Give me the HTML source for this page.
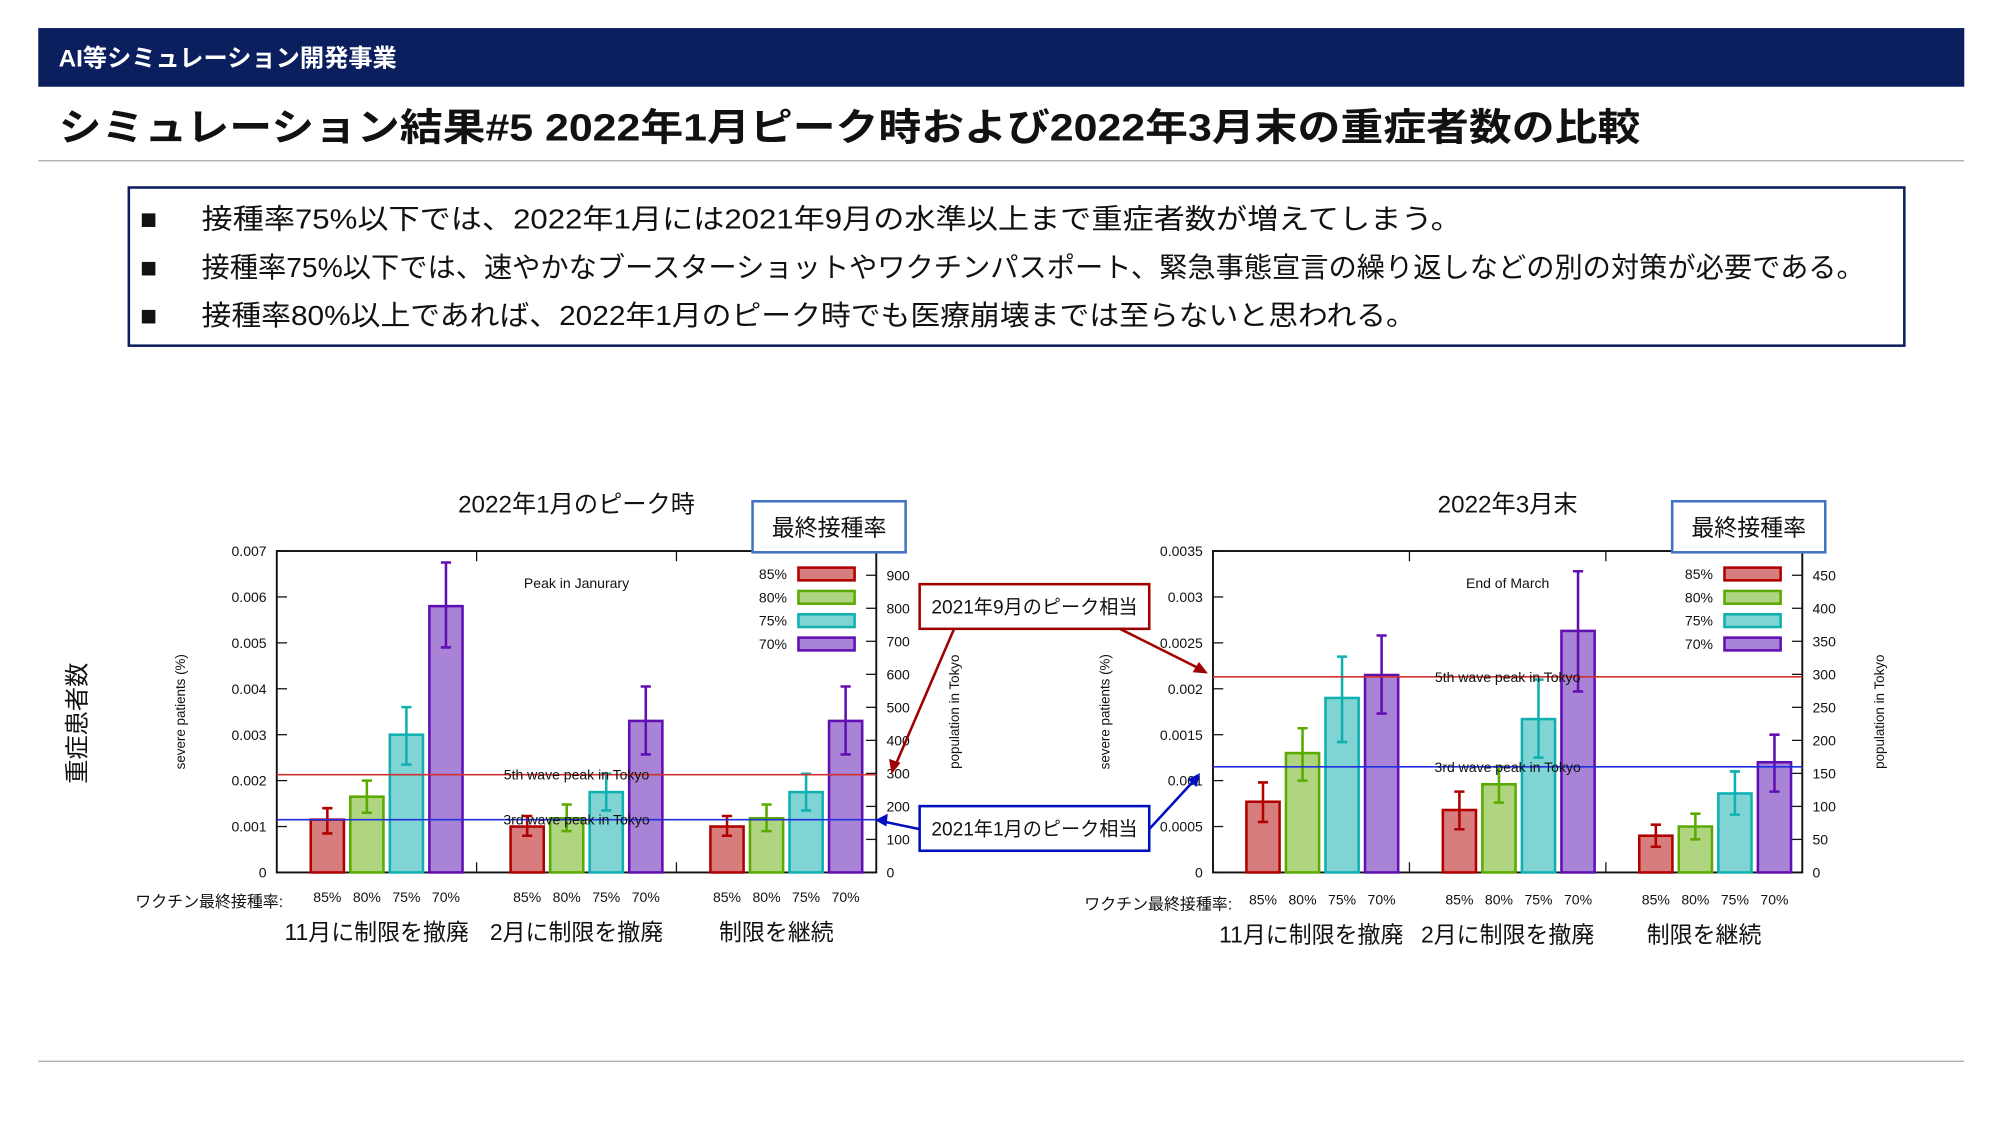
<!DOCTYPE html>
<html><head><meta charset="utf-8"><style>
html,body{margin:0;padding:0;background:#fff;}
svg{display:block;font-family:"Liberation Sans","Noto Sans CJK JP",sans-serif;}
</style></head><body>
<svg id="s" width="2000" height="1125" viewBox="0 0 1568 882" preserveAspectRatio="none" xmlns="http://www.w3.org/2000/svg">
<rect x="30" y="22" width="1510" height="46" fill="#0b1f5e"/>
<text x="46" y="52" fill="#fff" font-size="19" font-weight="bold">AI等シミュレーション開発事業</text>
<text x="46" y="110" fill="#111" font-size="30" font-weight="bold" textLength="1240" lengthAdjust="spacingAndGlyphs">シミュレーション結果#5 2022年1月ピーク時および2022年3月末の重症者数の比較</text>
<line x1="30" y1="126" x2="1540" y2="126" stroke="#aaa" stroke-width="1"/>
<rect x="101" y="147" width="1392" height="124" fill="#fff" stroke="#0b1f5e" stroke-width="2"/>
<g font-size="22" fill="#111">
<text x="110" y="179">■</text><text x="158" y="179" textLength="988" lengthAdjust="spacingAndGlyphs">接種率75%以下では、2022年1月には2021年9月の水準以上まで重症者数が増えてしまう。</text>
<text x="110" y="217">■</text><text x="158" y="217" textLength="1304" lengthAdjust="spacingAndGlyphs">接種率75%以下では、速やかなブースターショットやワクチンパスポート、緊急事態宣言の繰り返しなどの別の対策が必要である。</text>
<text x="110" y="255">■</text><text x="158" y="255" textLength="952" lengthAdjust="spacingAndGlyphs">接種率80%以上であれば、2022年1月のピーク時でも医療崩壊までは至らないと思われる。</text>
</g>
<text x="0" y="0" font-size="19" fill="#111" text-anchor="middle" transform="translate(67,567) rotate(-90)">重症患者数</text>
<line x1="30" y1="832" x2="1540" y2="832" stroke="#aaa" stroke-width="1"/>
<g id="charts"></g>
<g>
<rect x="721" y="458" width="180" height="35" fill="#fff" stroke="#a00000" stroke-width="2"/>
<text x="811" y="481" font-size="15" text-anchor="middle" fill="#111">2021年9月のピーク相当</text>
<line x1="748" y1="493" x2="702" y2="600" stroke="#a00000" stroke-width="2"/>
<polygon points="699,607 697,595 706,598" fill="#a00000"/>
<line x1="878" y1="493" x2="940" y2="524" stroke="#a00000" stroke-width="2"/>
<polygon points="947,528 935,527 940,519" fill="#a00000"/>
<rect x="721" y="632" width="180" height="35" fill="#fff" stroke="#0010c0" stroke-width="2"/>
<text x="811" y="655" font-size="15" text-anchor="middle" fill="#111">2021年1月のピーク相当</text>
<line x1="721" y1="650" x2="692" y2="644" stroke="#0010c0" stroke-width="2"/>
<polygon points="686,643 696,638 695,648" fill="#0010c0"/>
<line x1="901" y1="650" x2="936" y2="612" stroke="#0010c0" stroke-width="2"/>
<polygon points="941,606 938,617 931,611" fill="#0010c0"/>
</g>
</svg>
<script>
const categories = ["11月に制限を撤廃","2月に制限を撤廃","制限を継続"];
const rates = ["85%","80%","75%","70%"];
const janValues = [[0.00115,0.00165,0.0030,0.0058],[0.0010,0.00118,0.00175,0.0033],[0.0010,0.00118,0.00175,0.0033]];
const janLow = [[0.00085,0.0013,0.00235,0.0049],[0.0008,0.0009,0.00135,0.00257],[0.0008,0.0009,0.00135,0.00257]];
const janHigh = [[0.0014,0.0020,0.0036,0.00675],[0.00123,0.00148,0.00215,0.00405],[0.00123,0.00148,0.00215,0.00405]];
const janLeftTicks = [0,0.001,0.002,0.003,0.004,0.005,0.006,0.007];
const janRightTicks = [0,100,200,300,400,500,600,700,800,900];
const marValues = [[0.00077,0.0013,0.0019,0.00215],[0.00068,0.00096,0.00167,0.00263],[0.0004,0.0005,0.00086,0.0012]];
const marLow = [[0.00055,0.0010,0.00142,0.00173],[0.00047,0.00076,0.00125,0.00197],[0.00028,0.00036,0.00063,0.00088]];
const marHigh = [[0.00098,0.00157,0.00235,0.00258],[0.00088,0.00115,0.0021,0.00328],[0.00052,0.00064,0.0011,0.0015]];
const marLeftTicks = [0,0.0005,0.001,0.0015,0.002,0.0025,0.003,0.0035];
const marRightTicks = [0,50,100,150,200,250,300,350,400,450];
const wave5 = 0.00213, wave3 = 0.00115;
const fills = ["#d77d7d","#b0d580","#80d4d4","#a983d6"];
const strokes = ["#b00000","#5aaa00","#10b0b0","#6010b0"];
const NS="http://www.w3.org/2000/svg";
function mk(p,tag,a,txt){const e=document.createElementNS(NS,tag);for(const k in a)e.setAttribute(k,a[k]);if(txt!==undefined)e.textContent=txt;p.appendChild(e);return e;}
function chart(cfg){
  const root=document.getElementById('charts');
  const g=mk(root,'g',{});
  
  
  const L=cfg.x0,R=cfg.x1,T=432,B=684;
  const y=v=>B-(v/cfg.ymax)*(B-T);
  const yr=v=>B-(v/cfg.rmax)*(B-T);
  const gw=(R-L)/3;
  const xb=(gi,bi)=>L+gw*gi+gw*0.17+bi*31+13;
  mk(g,'text',{x:(L+R)/2,y:402,'font-size':19,'text-anchor':'middle',fill:'#111'},cfg.title);
  mk(g,'rect',{x:L,y:T,width:R-L,height:B-T,fill:'none',stroke:'#111','stroke-width':1.5});
  for(let i=1;i<3;i++){mk(g,'line',{x1:L+gw*i,y1:T,x2:L+gw*i,y2:T+8,stroke:'#111'});mk(g,'line',{x1:L+gw*i,y1:B,x2:L+gw*i,y2:B-8,stroke:'#111'});}
  cfg.lt.forEach(t=>{const yy=y(t);mk(g,'line',{x1:L,y1:yy,x2:L+8,y2:yy,stroke:'#111'});const e=mk(g,'text',{x:L-8,y:yy+4,'font-size':11,'text-anchor':'end',fill:'#111'},String(t));});
  cfg.rt.forEach(t=>{const yy=yr(t);mk(g,'line',{x1:R,y1:yy,x2:R-8,y2:yy,stroke:'#111'});const e=mk(g,'text',{x:R+8,y:yy+4,'font-size':11,fill:'#111'},String(t));});
  const yl=mk(g,'text',{x:0,y:0,'font-size':10.5,'text-anchor':'middle',fill:'#111',transform:`translate(${cfg.ylx},558) rotate(-90)`},'severe patients (%)');
  
  const y2=mk(g,'text',{x:0,y:0,'font-size':10.5,'text-anchor':'middle',fill:'#111',transform:`translate(${cfg.y2x},558) rotate(-90)`},'population in Tokyo');
  
  cfg.v.forEach((grp,gi)=>grp.forEach((v,bi)=>{
    const cx=xb(gi,bi);
    const r=mk(g,'rect',{x:cx-13,y:y(v),width:26,height:B-y(v),fill:fills[bi],stroke:strokes[bi],'stroke-width':2});
    
    
    const lo=y(cfg.lo[gi][bi]),hi=y(cfg.hi[gi][bi]);
    const eb=mk(g,'path',{d:`M${cx},${lo}V${hi}M${cx-4},${lo}H${cx+4}M${cx-4},${hi}H${cx+4}`,stroke:strokes[bi],'stroke-width':2,fill:'none'});
    
    const tl=mk(g,'text',{x:cx,y:cfg.tly,'font-size':11,'text-anchor':'middle',fill:'#111'},rates[bi]);
    
  }));
  categories.forEach((c,gi)=>{const e=mk(g,'text',{x:L+gw*gi+gw/2,y:cfg.tly+30,'font-size':18,'text-anchor':'middle',fill:'#111'},c);});
  mk(g,'text',{x:cfg.wlx,y:cfg.tly+4,'font-size':12.5,'text-anchor':'end',fill:'#111'},'ワクチン最終接種率:');
  mk(g,'line',{x1:L,y1:y(wave5),x2:R,y2:y(wave5),stroke:'#d03030','stroke-width':1.3});
  mk(g,'line',{x1:L,y1:y(wave3),x2:R,y2:y(wave3),stroke:'#2030e0','stroke-width':1.3});
  const mx=L+gw*1.5;
  mk(g,'text',{x:mx,y:y(wave5)+4,'font-size':11,'text-anchor':'middle',fill:'#111'},'5th wave peak in Tokyo');
  mk(g,'text',{x:mx,y:y(wave3)+4,'font-size':11,'text-anchor':'middle',fill:'#111'},'3rd wave peak in Tokyo');
  mk(g,'text',{x:mx,y:461,'font-size':11,'text-anchor':'middle',fill:'#111'},cfg.note);
  rates.forEach((r,i)=>{const yy=450+i*18.3;
    mk(g,'text',{x:R-70,y:yy+4,'font-size':11,'text-anchor':'end',fill:'#111'},r);
    const sw=mk(g,'rect',{x:R-61,y:yy-5,width:44,height:10,fill:fills[i],stroke:strokes[i],'stroke-width':2});
    
  });
  const lb=mk(g,'rect',{x:cfg.lbx,y:393,width:120,height:40,fill:'#fff',stroke:'#4472c4','stroke-width':2});
  
  mk(g,'text',{x:cfg.lbx+60,y:420,'font-size':18,'text-anchor':'middle',fill:'#111'},'最終接種率');
}
chart({name:'january-peak-chart',title:'2022年1月のピーク時',note:'Peak in Janurary',x0:217,x1:687,ymax:0.007,rmax:900*(684-432)/(684-451),lt:janLeftTicks,rt:janRightTicks,v:janValues,lo:janLow,hi:janHigh,ylx:145,y2x:752,tly:707,wlx:222,lbx:590});
chart({name:'march-end-chart',title:'2022年3月末',note:'End of March',x0:951,x1:1413,ymax:0.0035,rmax:450*(684-432)/(684-451),lt:marLeftTicks,rt:marRightTicks,v:marValues,lo:marLow,hi:marHigh,ylx:870,y2x:1477,tly:709,wlx:966,lbx:1311});
</script>
</body></html>
